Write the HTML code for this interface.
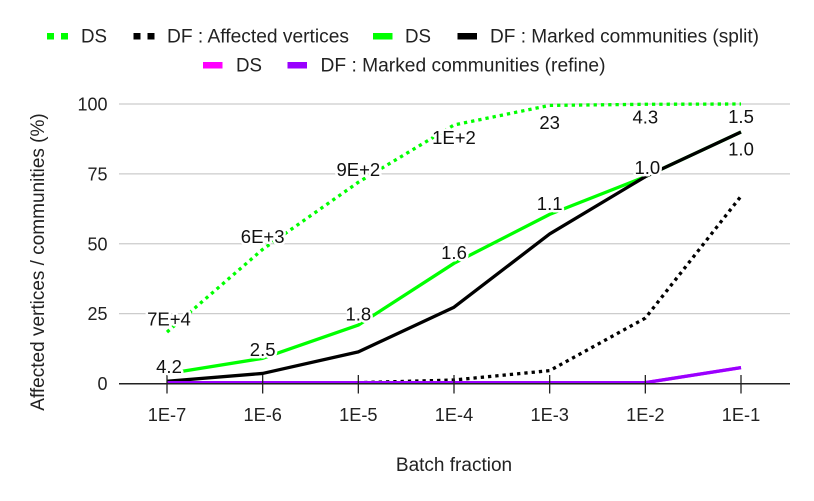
<!DOCTYPE html>
<html>
<head>
<meta charset="utf-8">
<style>
html,body{margin:0;padding:0;background:#fff;}
svg{display:block;font-family:"Liberation Sans",sans-serif;}
</style>
</head>
<body>
<svg id="chart" width="814" height="501" viewBox="0 0 814 501" xmlns="http://www.w3.org/2000/svg">
<g id="legend" font-size="19" fill="#222">
  <g>
    <rect x="47" y="33" width="7" height="6.5" fill="#00ff00"/>
    <rect x="61" y="33" width="7" height="6.5" fill="#00ff00"/>
    <text x="81" y="42.5" textLength="26" lengthAdjust="spacingAndGlyphs">DS</text>
  </g>
  <g>
    <rect x="133.5" y="33" width="7" height="6.5" fill="#000"/>
    <rect x="147.5" y="33" width="7" height="6.5" fill="#000"/>
    <text x="167" y="42.5" textLength="182" lengthAdjust="spacingAndGlyphs">DF : Affected vertices</text>
  </g>
  <g>
    <rect x="373" y="33" width="19.5" height="6.5" fill="#00ff00"/>
    <text x="405" y="42.5" textLength="26" lengthAdjust="spacingAndGlyphs">DS</text>
  </g>
  <g>
    <rect x="457.5" y="33" width="19.5" height="6.5" fill="#000"/>
    <text x="490" y="42.5" textLength="269" lengthAdjust="spacingAndGlyphs">DF : Marked communities (split)</text>
  </g>
  <g>
    <rect x="203" y="62" width="19.5" height="6.5" fill="#ff00ff"/>
    <text x="236" y="71.5" textLength="26" lengthAdjust="spacingAndGlyphs">DS</text>
  </g>
  <g>
    <rect x="287.5" y="62" width="19.5" height="6.5" fill="#9900ff"/>
    <text x="320.5" y="71.5" textLength="285" lengthAdjust="spacingAndGlyphs">DF : Marked communities (refine)</text>
  </g>
</g>
<g id="grid"></g>
<g id="series"></g>
<g id="axes"></g>
<g id="labels"></g>
<text transform="translate(44,262) rotate(-90)" text-anchor="middle" font-size="19" fill="#222">Affected vertices / communities (%)</text>
<text x="454" y="471" text-anchor="middle" font-size="19" fill="#222">Batch fraction</text>
</svg>
<script>
const categories = ['1E-7','1E-6','1E-5','1E-4','1E-3','1E-2','1E-1'];
const yTicks = [0,25,50,75,100];
const dsAffected = [18.4,48,72,92.5,99.5,99.9,100];
const dfAffected = [0.3,0.3,0.3,1.25,4.6,23.4,67];
const dsSplit = [3.5,9,20.9,43,60.5,74,90];
const dfSplit = [0.8,3.6,11.3,27.3,53.5,74,90];
const dsRefine = [0.3,0.3,0.3,0.3,0.3,0.3,5.7];
const dfRefine = [0.3,0.3,0.3,0.3,0.3,0.3,5.7];
const dsAffectedLabels = ['7E+4','6E+3','9E+2','1E+2','23','4.3','1.5'];
const dsAffectedSides = ['high','high','high','under','far','under','under'];
const dsSplitLabels = ['4.2','2.5','1.8','1.6','1.1','1.0','1.0'];
const dsSplitSides = ['touch','low','mid','mid','mid','low','far'];

const placement = {high:-6.5, mid:-4.5, low:-2.5, touch:-0.5, under:19, far:23.5};
const NS = 'http://www.w3.org/2000/svg';
function xPos(i){ return 167 + i * (741 - 167) / (categories.length - 1); }
function yPos(v){ return 383.5 - v * (383.5 - 104) / 100; }
function make(parent, tag, attrs){
  const el = document.createElementNS(NS, tag);
  for (const k in attrs) el.setAttribute(k, attrs[k]);
  parent.appendChild(el);
  return el;
}
const grid = document.getElementById('grid');
const axes = document.getElementById('axes');
const seriesG = document.getElementById('series');
const labelsG = document.getElementById('labels');

yTicks.forEach(function(t){
  if (t !== 0) {
    const g = make(grid, 'line', {x1:119, x2:790, y1:yPos(t), y2:yPos(t), stroke:'#cccccc', 'stroke-width':1.3});
    
    
  }
  const lab = make(axes, 'text', {x:107.5, y:yPos(t)+6.5, 'text-anchor':'end', 'font-size':18, fill:'#222'});
  lab.textContent = t;
  
  
});
const axisLine = make(axes, 'line', {x1:119, x2:790, y1:yPos(0)+0.3, y2:yPos(0)+0.3, stroke:'#222', 'stroke-width':1.5});


categories.forEach(function(c, i){
  const tick = make(axes, 'line', {x1:xPos(i), x2:xPos(i), y1:yPos(0)-8.5, y2:yPos(0)+10, stroke:'#222', 'stroke-width':1.3});
  
  
  const lab = make(axes, 'text', {x:xPos(i), y:421, 'text-anchor':'middle', 'font-size':18.2, fill:'#222'});
  lab.textContent = c;
  
  
});
function drawLine(values, color, dash, name){
  const pts = values.map(function(v, i){ return xPos(i) + ',' + yPos(v); }).join(' ');
  const attrs = {points:pts, fill:'none', stroke:color, 'stroke-width':3.3, 'stroke-linejoin':'round'};
  if (dash) attrs['stroke-dasharray'] = dash;
  const p = make(seriesG, 'polyline', attrs);
  
  
}
drawLine(dsAffected, '#00ff00', '3.3 4', 'series-ds-affected');
drawLine(dfAffected, '#000000', '3.3 4', 'series-df-affected');
drawLine(dsSplit, '#00ff00', null, 'series-ds-split');
drawLine(dfSplit, '#000000', null, 'series-df-split');
drawLine(dsRefine, '#ff00ff', null, 'series-ds-refine');
drawLine(dfRefine, '#9900ff', null, 'series-df-refine');

function drawLabels(values, texts, sides, name){
  values.forEach(function(v, i){
    const nudge = (i === 0 || (i === 5 && name === 'label-ds-split')) ? 2 : 0;
    const t = make(labelsG, 'text', {x:xPos(i) + nudge, y:yPos(v) + placement[sides[i]], 'text-anchor':'middle', 'font-size':18.5, fill:'#111', stroke:'#fff', 'stroke-width':5, 'paint-order':'stroke', 'stroke-linejoin':'round'});
    t.textContent = texts[i];
    
    
  });
}
drawLabels(dsAffected, dsAffectedLabels, dsAffectedSides, 'label-ds-affected');
drawLabels(dsSplit, dsSplitLabels, dsSplitSides, 'label-ds-split');
</script>
</body>
</html>
